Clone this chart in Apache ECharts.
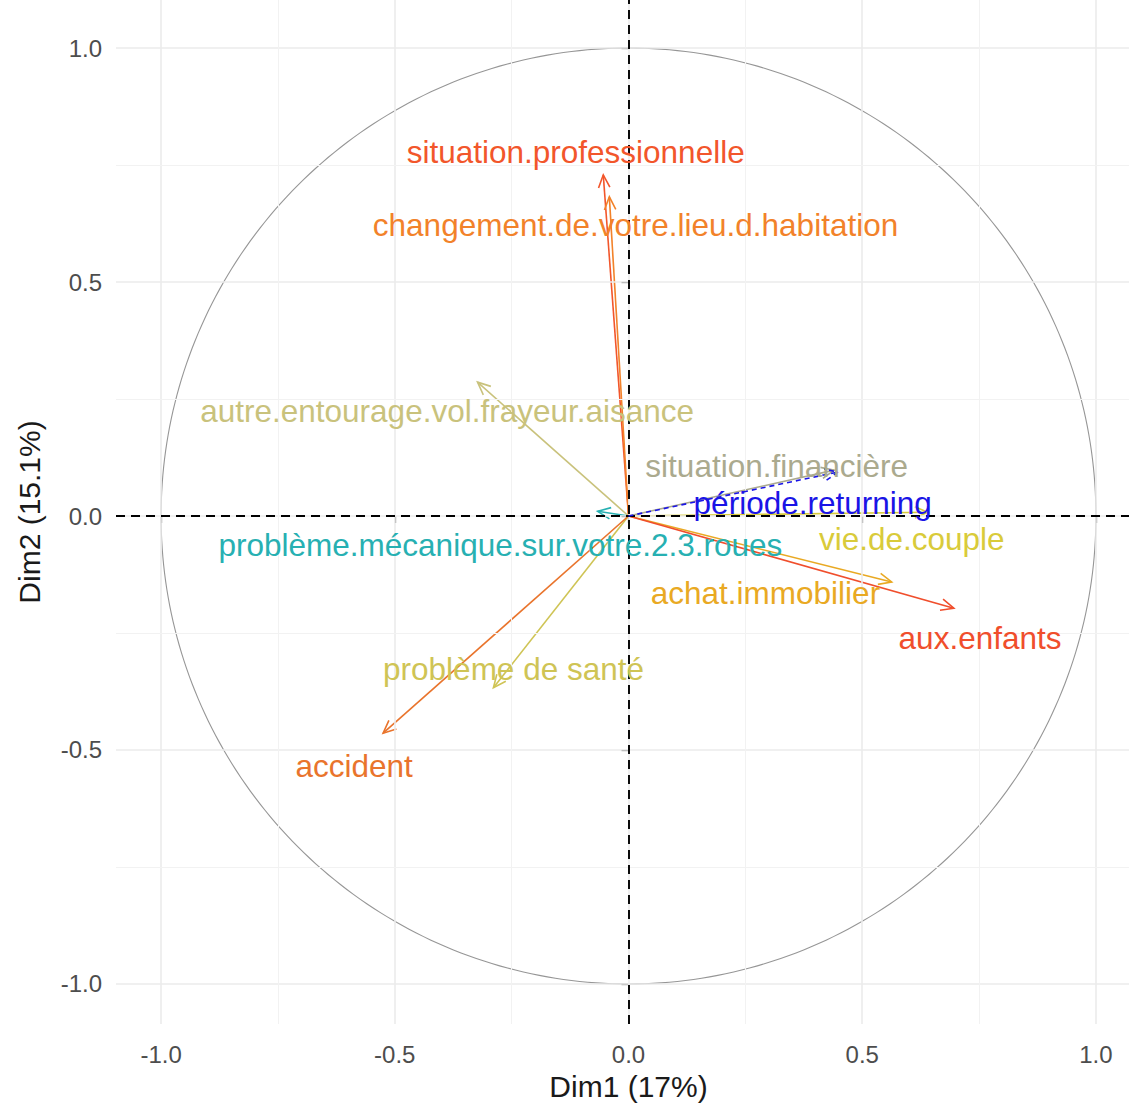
<!DOCTYPE html>
<html>
<head>
<meta charset="utf-8">
<script src="https://cdn.jsdelivr.net/npm/echarts@6/dist/echarts.min.js"></script>
<style>html,body{margin:0;padding:0;background:#fff}#c{width:1129px;height:1111px}</style>
</head>
<body>
<div id="c"></div>
<script>
// ---- data ----
const variables = [
  'situation.professionnelle',
  'changement.de.votre.lieu.d.habitation',
  'autre.entourage.vol.frayeur.aisance',
  'situation.financière',
  'vie.de.couple',
  'achat.immobilier',
  'aux.enfants',
  'problème.mécanique.sur.votre.2.3.roues',
  'problème de santé',
  'accident'
];
const dim1 = [-0.054, -0.041, -0.323, 0.440, 0.640, 0.563, 0.696, -0.066, -0.289, -0.525];
const dim2 = [ 0.729,  0.682,  0.286, 0.098, 0.008, -0.141, -0.197, 0.010, -0.367, -0.464];
// label anchor points (data units)
const labelDim1 = [-0.113, 0.015, -0.388, 0.317, 0.606, 0.293, 0.752, -0.274, -0.246, -0.587];
const labelDim2 = [ 0.778, 0.622,  0.224, 0.107, -0.049, -0.165, -0.261, -0.062, -0.327, -0.534];

// supplementary variable
const supVariables = ['période.returning'];
const supDim1 = [0.448];
const supDim2 = [0.094];
const supLabelDim1 = [0.394];
const supLabelDim2 = [0.027];

const axisTicks = [-1, -0.5, 0, 0.5, 1];
const minorGrid = [-0.75, -0.25, 0.25, 0.75];
const xTitle = 'Dim1 (17%)';
const yTitle = 'Dim2 (15.1%)';

// ---- styles ----
const varColors = ['#F2562B', '#F2822A', '#C9C27C', '#ABAA8E', '#D9CB3A', '#E9A923',
                   '#F04E2C', '#27B0B2', '#CFC455', '#E9742C'];
const supColor = '#1A14E6';
const FONT = 'Liberation Sans, Arial, sans-serif';

const chart = echarts.init(document.getElementById('c'), null, {renderer: 'svg'});

function arrowItem(params, api, color, dash) {
  const o = api.coord([0, 0]);
  const p = api.coord([api.value(0), api.value(1)]);
  const ang = Math.atan2(p[1] - o[1], p[0] - o[0]);
  const L = 14, a = Math.PI / 7.5;
  const h1 = [p[0] - L * Math.cos(ang - a), p[1] - L * Math.sin(ang - a)];
  const h2 = [p[0] - L * Math.cos(ang + a), p[1] - L * Math.sin(ang + a)];
  return {
    type: 'group',
    children: [
      {type: 'line', shape: {x1: o[0], y1: o[1], x2: p[0], y2: p[1]},
       style: {stroke: color, lineWidth: 1.6, lineDash: dash || null}},
      {type: 'polyline', shape: {points: [h1, p, h2]},
       style: {stroke: color, fill: null, lineWidth: 1.6, lineDash: dash || null}}
    ]
  };
}

const circleAngles = [];
for (let k = 0; k <= 360; k++) circleAngles.push(k);

chart.setOption({
  animation: false,
  backgroundColor: '#ffffff',
  grid: {left: 116, right: 0, top: 0, bottom: 87},
  xAxis: {
    type: 'value', min: -1.0964, max: 1.0707,
    axisLine: {show: false},
    splitLine: {show: false},
    axisTick: {show: true, customValues: axisTicks, length: 7, lineStyle: {color: '#333', width: 1.2}},
    axisLabel: {customValues: axisTicks, formatter: v => v.toFixed(1), fontSize: 24,
                color: '#4D4D4D', fontFamily: FONT, margin: 18},
    name: xTitle, nameLocation: 'middle', nameGap: 47,
    nameTextStyle: {fontSize: 30, color: '#1A1A1A', fontFamily: FONT, padding: [0, 0, 0, 12]}
  },
  yAxis: {
    type: 'value', min: -1.0855, max: 1.1026,
    axisLine: {show: false},
    splitLine: {show: false},
    axisTick: {show: true, customValues: axisTicks, length: 7, lineStyle: {color: '#333', width: 1.2}},
    axisLabel: {customValues: axisTicks, formatter: v => v.toFixed(1), fontSize: 24,
                color: '#4D4D4D', fontFamily: FONT, margin: 14},
    name: yTitle, nameLocation: 'middle', nameGap: 72, nameRotate: 90,
    nameTextStyle: {fontSize: 30, color: '#1A1A1A', fontFamily: FONT}
  },
  series: [
    // grid lines
    {
      type: 'line', data: [], silent: true, z: 1,
      markLine: {
        silent: true, symbol: 'none', label: {show: false},
        data: [
          ...axisTicks.map(v => ({xAxis: v, lineStyle: {color: '#EBEBEB', width: 1.6, type: 'solid'}})),
          ...axisTicks.map(v => ({yAxis: v, lineStyle: {color: '#EBEBEB', width: 1.6, type: 'solid'}})),
          ...minorGrid.map(v => ({xAxis: v, lineStyle: {color: '#F2F2F2', width: 1, type: 'solid'}})),
          ...minorGrid.map(v => ({yAxis: v, lineStyle: {color: '#F2F2F2', width: 1, type: 'solid'}}))
        ]
      }
    },
    // unit circle
    {
      type: 'custom', z: 2, silent: true,
      data: [[0, 0]],
      renderItem: (params, api) => ({
        type: 'polyline',
        shape: {points: circleAngles.map(d => api.coord([Math.cos(d * Math.PI / 180), Math.sin(d * Math.PI / 180)]))},
        style: {stroke: '#969696', fill: null, lineWidth: 1.1}
      })
    },
    // dashed zero lines
    {
      type: 'line', data: [], silent: true, z: 3,
      markLine: {
        silent: true, symbol: 'none', label: {show: false},
        lineStyle: {color: '#000', width: 1.9, type: [9, 6]},
        data: [{xAxis: 0}, {yAxis: 0}]
      }
    },
    // active variable arrows
    {
      type: 'custom', z: 4, silent: true,
      data: variables.map((n, i) => [dim1[i], dim2[i], i]),
      renderItem: (params, api) => arrowItem(params, api, varColors[api.value(2)])
    },
    // supplementary variable arrows (dashed)
    {
      type: 'custom', z: 5, silent: true,
      data: supVariables.map((n, i) => [supDim1[i], supDim2[i], i]),
      renderItem: (params, api) => arrowItem(params, api, supColor, [5, 4])
    },
    // labels
    {
      type: 'custom', z: 6, silent: true,
      data: variables.map((n, i) => [labelDim1[i], labelDim2[i], i]),
      renderItem: (params, api) => {
        const i = api.value(2);
        const p = api.coord([api.value(0), api.value(1)]);
        return {type: 'text', x: p[0], y: p[1],
          style: {text: variables[i], fill: varColors[i], font: '31.5px ' + FONT,
                  align: 'center', verticalAlign: 'middle'}};
      }
    },
    {
      type: 'custom', z: 6, silent: true,
      data: supVariables.map((n, i) => [supLabelDim1[i], supLabelDim2[i], i]),
      renderItem: (params, api) => {
        const i = api.value(2);
        const p = api.coord([api.value(0), api.value(1)]);
        return {type: 'text', x: p[0], y: p[1],
          style: {text: supVariables[i], fill: supColor, font: '31.5px ' + FONT,
                  align: 'center', verticalAlign: 'middle'}};
      }
    }
  ]
});
</script>
</body>
</html>
